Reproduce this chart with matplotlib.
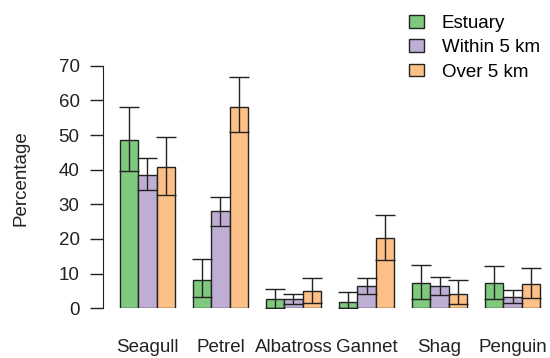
import numpy as np
import matplotlib
matplotlib.use("Agg")
import matplotlib.pyplot as plt

plt.rcParams["font.family"] = ["Liberation Sans", "DejaVu Sans"]

birds = ["Seagull", "Petrel", "Albatross", "Gannet", "Shag", "Penguin"]
series = ["Estuary", "Within 5 km", "Over 5 km"]
colors = ["#7FC97F", "#BEAED4", "#FDC086"]

estuary = [48.6, 8.2, 2.6, 1.7, 7.2, 7.2]
estuary_lo = [39.7, 3.3, 0.0, 0.0, 2.8, 2.8]
estuary_hi = [58.0, 14.1, 5.7, 4.8, 12.6, 12.1]

within = [38.5, 28.1, 2.6, 6.3, 6.3, 3.3]
within_lo = [34.0, 23.7, 1.1, 4.0, 3.9, 1.6]
within_hi = [43.3, 32.2, 4.2, 8.7, 8.9, 5.2]

over = [40.7, 58.2, 5.0, 20.2, 4.2, 7.1]
over_lo = [32.7, 50.8, 1.5, 13.9, 1.3, 3.1]
over_hi = [49.5, 66.6, 8.7, 27.0, 8.2, 11.7]

values = [estuary, within, over]
lows = [estuary_lo, within_lo, over_lo]
highs = [estuary_hi, within_hi, over_hi]

W, H = 550, 358
FS = 13.5
fig = plt.figure(figsize=(W / 100, H / 100), dpi=100)

# axes placed in pixel terms: y=0 at 308.3 px from top, 3.466 px per unit
y0_px = 308.3
ppu = 3.466
ytop = 75
ax_h = ytop * ppu
ax = fig.add_axes([103 / W, (H - y0_px) / H, (W - 103) / W, ax_h / H])

# R-style barplot positions: groups of 3 bars, one bar-width space between
xppu = 420 / 23
ax.set_xlim(1 - 17 / xppu, 1 + (W - 120) / xppu)
ax.set_ylim(0, ytop)

n = len(birds)
group_start = 1 + 4 * np.arange(n)
for k in range(3):
    x = group_start + k + 0.5
    v = np.array(values[k])
    lo = v - np.array(lows[k])
    hi = np.array(highs[k]) - v
    ax.bar(x, v, width=1.0, color=colors[k], edgecolor="#222222",
           linewidth=1.0, label=series[k], zorder=2)
    ax.errorbar(x, v, yerr=[lo, hi], fmt="none", ecolor="#222222",
                elinewidth=1.0, capsize=7, capthick=1.0, zorder=3)

for s in ["top", "right", "bottom"]:
    ax.spines[s].set_visible(False)
ax.spines["left"].set_bounds(0, 70)
ax.spines["left"].set_color("#222222")
ax.set_yticks(np.arange(0, 71, 10))
ax.tick_params(axis="y", length=9.4, width=1.0, pad=7.5, labelsize=FS,
               colors="#222222")

ax.set_xticks(group_start + 1.5)
ax.set_xticklabels(birds)
ax.tick_params(axis="x", length=0, pad=22, labelsize=FS, colors="#222222")

fig.text(21 / W, 1 - 178 / H, "Percentage", rotation=90, ha="center",
         va="center", fontsize=FS, color="#222222")

ax.legend(loc="upper left", bbox_to_anchor=(409 / W, 1 - 15 / H),
          bbox_transform=fig.transFigure, frameon=False, fontsize=FS,
          handlelength=0.8, handleheight=0.65, handletextpad=0.95,
          labelspacing=0.39, borderaxespad=0, borderpad=0)

fig.savefig("out.png", dpi=100)
